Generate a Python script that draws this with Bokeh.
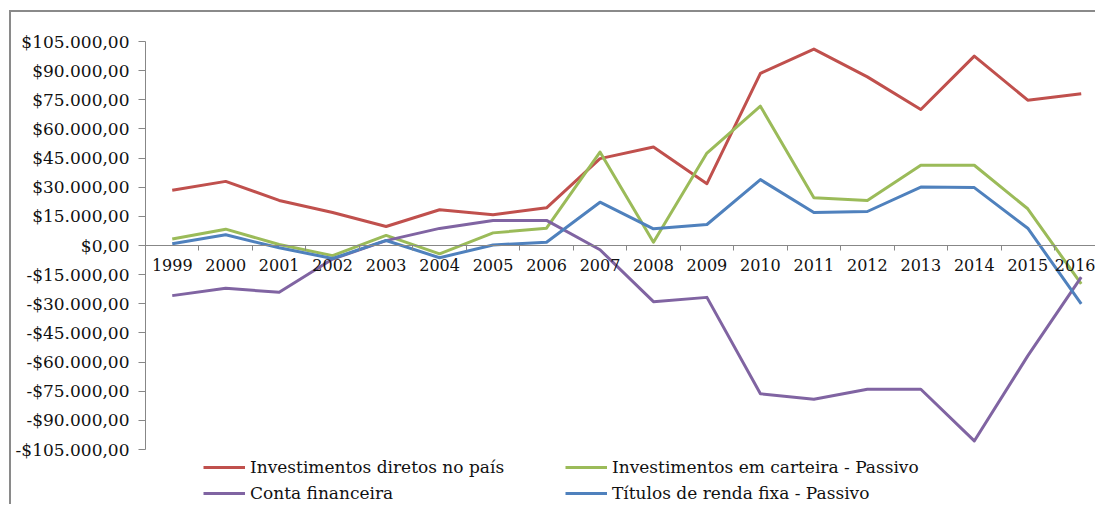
from bokeh.plotting import figure
from bokeh.models import (Range1d, LinearAxis, FixedTicker, CustomJSTickFormatter,
                          Legend, LegendItem)
from bokeh.embed import file_html
from bokeh.resources import INLINE

years = list(range(1999, 2017))
investimentos_diretos = [28400, 33000, 23200, 17000, 9800, 18400, 15800, 19400, 44700, 50700,
                         31800, 88600, 101100, 86800, 70000, 97500, 74800, 78100]
investimentos_carteira = [3300, 8400, 500, -5200, 5200, -4300, 6500, 8900, 48100, 1700,
                          47600, 71700, 24600, 23100, 41300, 41300, 18900, -19800]
conta_financeira = [-25800, -22000, -24100, -7000, 2500, 8800, 12900, 12900, -2200, -28900,
                    -26700, -76300, -79100, -74000, -74000, -100600, -56800, -16300]
titulos_renda_fixa = [900, 5500, -1200, -6700, 2600, -6300, 300, 1700, 22300, 8600,
                      10800, 33900, 17000, 17500, 30100, 29800, 8900, -30100]
y_ticks = list(range(-105000, 105001, 15000))
labels = ["Investimentos diretos no país", "Investimentos em carteira - Passivo",
          "Conta financeira", "Títulos de renda fixa - Passivo"]
colors = ["#C0504D", "#9BBB59", "#8064A2", "#4F81BD"]

FONT = "DejaVu Serif"
AX = "#878787"

# frame spans page y 41..506; the axis range -105000..105000 occupies 41..449
Y_TOP = 105000
Y_BOTTOM = Y_TOP - 210000 * 465 / 408

p = figure(width=1086, height=494, output_backend="svg", toolbar_location=None,
           x_axis_location=None, y_axis_location=None,
           x_range=Range1d(1998.5, 1998.5 + 952 / 53.47),
           y_range=Range1d(Y_BOTTOM, Y_TOP),
           min_border_left=134, min_border_right=0, min_border_top=29,
           min_border_bottom=0)
p.styles = {"border-left": "2px solid #8a8a8a", "border-top": "2px solid #8a8a8a",
            "margin-left": "9px", "margin-top": "10px"}
p.outline_line_color = None
p.xgrid.visible = False
p.ygrid.visible = False

yaxis = LinearAxis(ticker=FixedTicker(ticks=y_ticks), bounds=(-105000, 105000),
                   formatter=CustomJSTickFormatter(code="""
const a = Math.abs(tick);
const s = a.toFixed(0).replace(/\\B(?=(\\d{3})+(?!\\d))/g, ".");
return (tick < 0 ? "-" : "") + "$" + s + ",00";
"""))
yaxis.axis_line_color = AX
yaxis.major_tick_line_color = AX
yaxis.major_tick_out = 7
yaxis.major_tick_in = 0
yaxis.minor_tick_line_color = None
yaxis.major_label_standoff = 9
yaxis.major_label_text_font = FONT
yaxis.major_label_text_font_size = "17px"
yaxis.major_label_text_color = "#111111"
p.add_layout(yaxis, "left")

xaxis = LinearAxis(ticker=FixedTicker(ticks=years, minor_ticks=[y + 0.5 for y in years]),
                   formatter=CustomJSTickFormatter(code="return tick.toFixed(0);"),
                   fixed_location=0)
xaxis.axis_line_color = AX
xaxis.major_tick_line_color = None
xaxis.major_tick_out = 0
xaxis.major_tick_in = 0
xaxis.minor_tick_line_color = AX
xaxis.minor_tick_out = 5
xaxis.minor_tick_in = 0
xaxis.major_label_standoff = 8
xaxis.major_label_text_font = FONT
xaxis.major_label_text_font_size = "16px"
xaxis.major_label_text_color = "#111111"
p.add_layout(xaxis, "below")

series = [investimentos_diretos, investimentos_carteira, conta_financeira, titulos_renda_fixa]
renderers = []
for vals, c in zip(series, colors):
    r = p.line(years, vals, line_color=c, line_width=3, line_join="round")
    renderers.append(r)

def mk_legend(idx, x):
    lg = Legend(items=[LegendItem(label=labels[i], renderers=[renderers[i]]) for i in idx],
                location=(x, 3), orientation="vertical")
    lg.padding = 0
    lg.margin = 0
    lg.spacing = 6
    lg.glyph_width = 42
    lg.glyph_height = 20
    lg.label_standoff = 5
    lg.label_text_font = FONT
    lg.label_text_font_size = "17px"
    lg.label_text_color = "#111111"
    lg.border_line_color = None
    lg.background_fill_alpha = 0
    return lg

p.add_layout(mk_legend([0, 2], 58), "center")
p.add_layout(mk_legend([1, 3], 420), "center")

open("out.html", "w").write(file_html(p, INLINE))
